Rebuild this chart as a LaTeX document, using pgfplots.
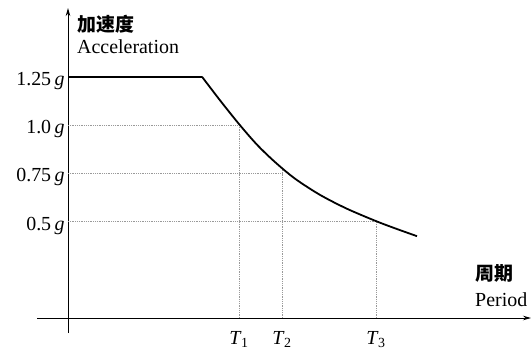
\documentclass[border=0pt]{standalone}
\usepackage{fontspec}
\setmainfont{Liberation Serif}
\newfontfamily\cjk{Noto Sans CJK SC}
\usepackage{pgfplots}
\pgfplotsset{compat=1.18}
\usetikzlibrary{arrows.meta}
\begin{document}
\begin{tikzpicture}
\begin{axis}[
  x=100bp, y=193bp,
  xmin=-0.31, xmax=4.63, ymin=-0.078, ymax=1.606,
  axis lines=middle,
  axis line style={line width=0.9bp, -{Stealth[length=8bp,width=4.5bp]}},
  xtick={1.71,2.14,3.08},
  xticklabels={\textit{T}\kern-0.5bp\textsubscript{1},\textit{T}\kern-0.5bp\textsubscript{2},\textit{T}\kern-0.5bp\textsubscript{3}},
  ytick={0.5,0.75,1,1.25},
  yticklabels={0.5\,\textit{g},0.75\,\textit{g},1.0\,\textit{g},1.25\,\textit{g}},
  major tick length=0,
  tick label style={font=\fontsize{20}{24}\selectfont},
  yticklabel style={anchor=base east, yshift=-8.5bp},
  xticklabel style={yshift=-10bp},
  clip=false,
]
% guide lines
\addplot[densely dotted, gray!80, line width=0.8bp] coordinates {(0,1.0) (1.71,1.0)};
\addplot[densely dotted, gray!80, line width=0.8bp] coordinates {(0,0.75) (2.14,0.75)};
\addplot[densely dotted, gray!80, line width=0.8bp] coordinates {(0,0.5) (3.08,0.5)};
\addplot[densely dotted, gray!80, line width=0.8bp] coordinates {(1.71,0) (1.71,1.0)};
\addplot[densely dotted, gray!80, line width=0.8bp] coordinates {(2.14,0) (2.14,0.77)};
\addplot[densely dotted, gray!80, line width=0.8bp] coordinates {(3.08,0) (3.08,0.5)};
% spectrum
\addplot[black, line width=1.8bp] coordinates {(0,1.25) (1.34,1.25)};
\addplot[black, line width=1.8bp, smooth, tension=0.5] coordinates {
  (1.34,1.25) (1.52,1.128) (1.71,1.005) (1.89,0.898) (2.07,0.808)
  (2.27,0.722) (2.52,0.638) (2.79,0.566) (3.09,0.5) (3.29,0.461) (3.49,0.424)};
% labels
\node[anchor=base west, inner sep=0pt, font=\cjk\bfseries\fontsize{19}{22}\selectfont] at (axis cs:0.09,1.487) {加速度};
\node[anchor=base west, inner sep=0pt, font=\fontsize{20}{24}\selectfont] at (axis cs:0.09,1.373) {Acceleration};
\node[anchor=base west, inner sep=0pt, font=\cjk\bfseries\fontsize{19}{22}\selectfont] at (axis cs:4.07,0.192) {周期};
\node[anchor=base west, inner sep=0pt, font=\fontsize{20}{24}\selectfont] at (axis cs:4.07,0.062) {Period};
\coordinate (bl) at (axis cs:-0.68,-0.2124);
\coordinate (tr) at (axis cs:4.63,1.6477);
\end{axis}
\pgfresetboundingbox
\path (bl) rectangle (tr);
\end{tikzpicture}
\end{document}
